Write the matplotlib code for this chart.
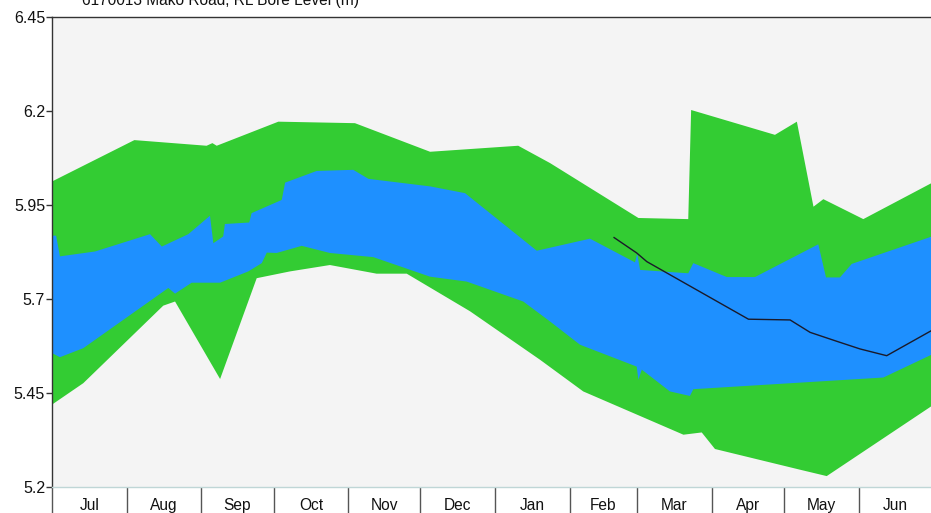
import matplotlib
matplotlib.use("Agg")
import matplotlib.pyplot as plt
import numpy as np

plt.rcParams['font.family'] = ['Liberation Sans', 'DejaVu Sans']

# Days counted from 1 July; values are RL bore level (m)
months = ["Jul", "Aug", "Sep", "Oct", "Nov", "Dec", "Jan", "Feb", "Mar", "Apr", "May", "Jun"]
month_days = [31, 31, 30, 31, 30, 31, 31, 28, 31, 30, 31, 30]

# Historical maximum
max_day = [0, 34.2, 64.2, 66.6, 68.4, 94.0, 125.8, 157.0, 193.6, 206.8, 243.5, 264.2,
           265.4, 300.2, 309.3, 316.2, 320.3, 336.9, 365]
max_val = [6.012, 6.122, 6.107, 6.114, 6.107, 6.171, 6.167, 6.091, 6.107, 6.061, 5.915, 5.912,
           6.202, 6.136, 6.171, 5.945, 5.965, 5.912, 6.007]

# Historical minimum
min_day = [0, 13.0, 46.2, 51.1, 69.8, 85.0, 98.8, 115.4, 134.8, 147.3, 173.6, 202.7,
           220.6, 262.2, 269.8, 275.3, 310.6, 321.7, 365]
min_val = [5.419, 5.476, 5.682, 5.693, 5.487, 5.755, 5.773, 5.790, 5.767, 5.767, 5.667, 5.538,
           5.454, 5.339, 5.345, 5.301, 5.246, 5.229, 5.414]

# Upper percentile
hi_day = [0, 1.7, 3.3, 17.9, 40.7, 45.6, 56.6, 65.6, 67.0, 71.1, 71.8, 81.9, 82.9, 95.4, 96.8,
          109.9, 125.1, 131.4, 157.0, 171.5, 201.3, 223.4, 242.1, 243.0, 244.2, 264.2, 266.3,
          280.2, 291.9, 318.2, 321.4, 327.2, 332.1, 365]
hi_val = [5.868, 5.868, 5.813, 5.826, 5.872, 5.839, 5.872, 5.921, 5.848, 5.866, 5.899, 5.903,
          5.928, 5.963, 6.009, 6.040, 6.043, 6.019, 5.999, 5.981, 5.828, 5.860, 5.797, 5.820,
          5.777, 5.768, 5.795, 5.758, 5.758, 5.845, 5.757, 5.757, 5.793, 5.865]

# Lower percentile
lo_day = [0, 3.3, 13.0, 48.3, 51.1, 58.0, 69.8, 81.5, 87.1, 89.2, 93.3, 103.7, 115.4, 133.4,
          157.0, 172.2, 195.7, 206.8, 219.3, 242.8, 243.5, 244.9, 256.6, 264.9, 266.3, 345.2, 365]
lo_val = [5.556, 5.545, 5.569, 5.729, 5.714, 5.743, 5.743, 5.773, 5.795, 5.823, 5.822, 5.841,
          5.822, 5.811, 5.759, 5.746, 5.693, 5.640, 5.578, 5.520, 5.485, 5.512, 5.454, 5.442,
          5.460, 5.491, 5.551]

# Current season readings
cur_day = [233.4, 242.8, 247.0, 289.2, 306.5, 314.8, 326.0, 335.5, 346.6, 365]
cur_val = [5.863, 5.822, 5.799, 5.646, 5.644, 5.611, 5.587, 5.567, 5.549, 5.615]

yticks = [5.2, 5.45, 5.7, 5.95, 6.2, 6.45]
ytick_labels = ["5.2", "5.45", "5.7", "5.95", "6.2", "6.45"]
title = "6170013 Mako Road, RL Bore Level (m)"

fig = plt.figure(figsize=(9.31, 5.13), dpi=100)
ax = fig.add_axes([52 / 931, 1 - 487 / 513, 1 - 52 / 931, (487 - 16.7) / 513])
ax.set_facecolor("#F4F4F4")

ax.fill(np.concatenate([max_day, min_day[::-1]]), np.concatenate([max_val, min_val[::-1]]),
        color="#33CC33", lw=0)
ax.fill(np.concatenate([hi_day, lo_day[::-1]]), np.concatenate([hi_val, lo_val[::-1]]),
        color="#1E90FF", lw=0)
ax.plot(cur_day, cur_val, color="#1a1a2a", lw=1.0)

ax.set_xlim(0, 365)
ax.set_ylim(5.2, 6.45)

bounds = np.concatenate([[0], np.cumsum(month_days)])
mids = (bounds[:-1] + bounds[1:]) / 2
ax.set_xticks(bounds[:-1])
ax.set_xticklabels([])
ax.set_xticks(mids, minor=True)
ax.set_xticklabels(months, minor=True)
ax.tick_params(axis="x", which="major", length=27, width=1, color="#555555", direction="out")
ax.tick_params(axis="x", which="minor", length=0, pad=8, labelsize=11.2, labelcolor="#111111")

ax.set_yticks(yticks)
ax.set_yticklabels(ytick_labels)
ax.tick_params(axis="y", length=4, width=1, color="#333333", pad=1, labelsize=11.5, labelcolor="#111111")

ax.spines["right"].set_visible(False)
ax.spines["left"].set_color("#333333")
ax.spines["top"].set_color("#333333")
ax.spines["bottom"].set_color("#BFD6D6")
for s in ax.spines.values():
    s.set_linewidth(1)

fig.text(82 / 931, 1 - 5 / 513, title, ha="left", va="baseline", fontsize=11.2, color="#111111")

fig.savefig("out.png", dpi=100)
